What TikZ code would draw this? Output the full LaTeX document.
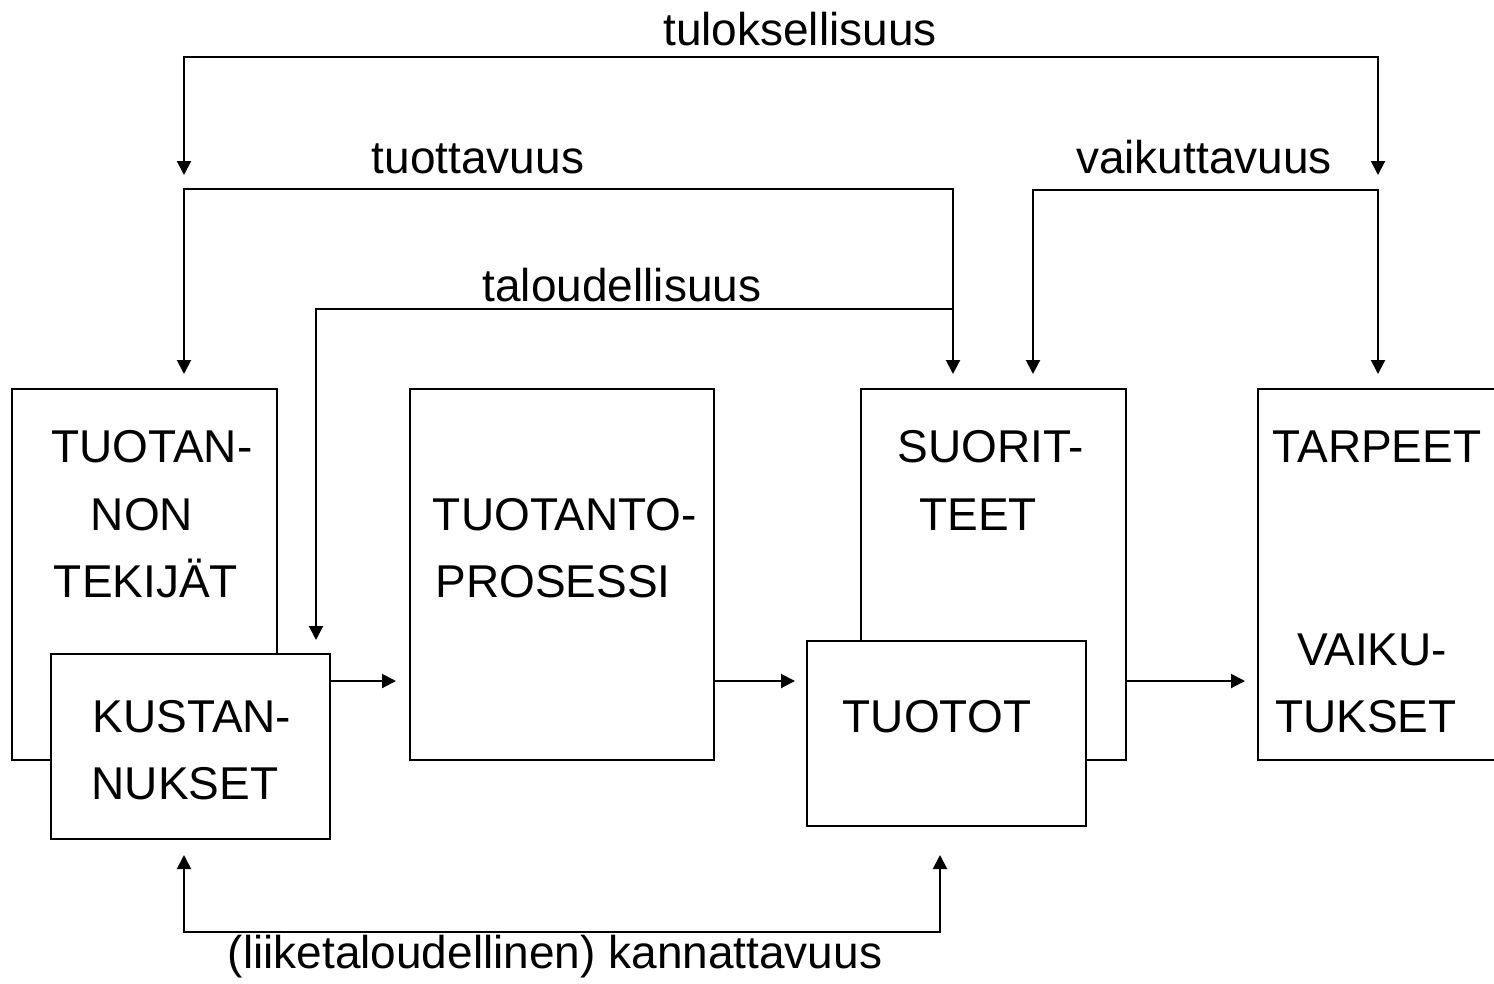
\documentclass[tikz,border=0pt]{standalone}
\usepackage{fontspec}
\setmainfont{Liberation Sans}
\usetikzlibrary{arrows.meta}
\begin{document}
\begin{tikzpicture}[x=1pt,y=-1pt,
  box/.style={draw=black,line width=2pt,fill=white,inner sep=0pt,outer sep=0pt,anchor=north west},
  lbl/.style={anchor=base,inner sep=0pt,font=\fontsize{46}{55}\selectfont},
  conn/.style={line width=2pt},
  arr/.style={conn,-{Triangle[length=14pt,width=14pt]}},
  arrboth/.style={conn,{Triangle[length=14pt,width=14pt]}-{Triangle[length=14pt,width=14pt]}}]
\useasboundingbox (0,0) rectangle (1494,983);
% boxes
\node[box,minimum width=265pt,minimum height=371pt] (tek) at (12,389) {};
\node[box,minimum width=279pt,minimum height=185pt] (kus) at (51,654) {};
\node[box,minimum width=304pt,minimum height=371pt] (pro) at (410,389) {};
\node[box,minimum width=265pt,minimum height=371pt] (suo) at (861,389) {};
\node[box,minimum width=279pt,minimum height=185pt] (tuo) at (807,641) {};
\node[box,minimum width=250pt,minimum height=371pt] (tar) at (1258,389) {};
% box texts
\node[lbl] (t1) at (152,462) {TUOTAN-};
\node[lbl] (t2) at (142,530) {NON};
\node[lbl] (t3) at (146,597) {TEKIJÄT};
\node[lbl] (k1) at (192,732) {KUSTAN-};
\node[lbl] (k2) at (185,799) {NUKSET};
\node[lbl] (p1) at (565,530) {TUOTANTO-};
\node[lbl] (p2) at (553,597) {PROSESSI};
\node[lbl] (s1) at (991,462) {SUORIT-};
\node[lbl] (s2) at (978,530) {TEET};
\node[lbl] (o1) at (937,732) {TUOTOT};
\node[lbl] (r1) at (1377,462) {TARPEET};
\node[lbl] (r2) at (1372,665) {VAIKU-};
\node[lbl] (r3) at (1366,732) {TUKSET};
% labels
\node[lbl] (lTulos) at (800,45) {tuloksellisuus};
\node[lbl] (lTuott) at (478,173) {tuottavuus};
\node[lbl] (lVaik) at (1204,173) {vaikuttavuus};
\node[lbl] (lTal) at (622,301) {taloudellisuus};
\node[lbl] (lKann) at (555,968) {(liiketaloudellinen) kannattavuus};
% helper coordinates
\coordinate (yMid) at (0,681);
\coordinate (tulA) at (184,175);
\coordinate (tulB) at (1378,175);
\coordinate (yTul) at (0,57);
\coordinate (tuoA) at (184,374);
\coordinate (tuoB) at (953,374);
\coordinate (yTuo) at (0,189);
\coordinate (talS) at (953,309);
\coordinate (talE) at (316,640);
\coordinate (vaiA) at (1033,374);
\coordinate (vaiB) at (1378,374);
\coordinate (yVai) at (0,190);
\coordinate (kanA) at (184,855);
\coordinate (kanB) at (940,855);
\coordinate (yKan) at (0,932);
% connectors
\draw[arrboth] (tulA) -- (tulA |- yTul) -- (tulB |- yTul) -- (tulB);
\draw[arrboth] (tuoA) -- (tuoA |- yTuo) -- (tuoB |- yTuo) -- (tuoB);
\draw[arr] (talS) -- (talE |- talS) -- (talE);
\draw[arrboth] (vaiA) -- (vaiA |- yVai) -- (vaiB |- yVai) -- (vaiB);
\draw[arrboth] (kanA) -- (kanA |- yKan) -- (kanB |- yKan) -- (kanB);
\draw[arr,shorten >=14pt] (kus.east |- yMid) -- (pro.west |- yMid);
\draw[arr,shorten >=12pt] (pro.east |- yMid) -- (tuo.west |- yMid);
\draw[arr,shorten >=13pt] (suo.east |- yMid) -- (tar.west |- yMid);
\end{tikzpicture}
\end{document}
